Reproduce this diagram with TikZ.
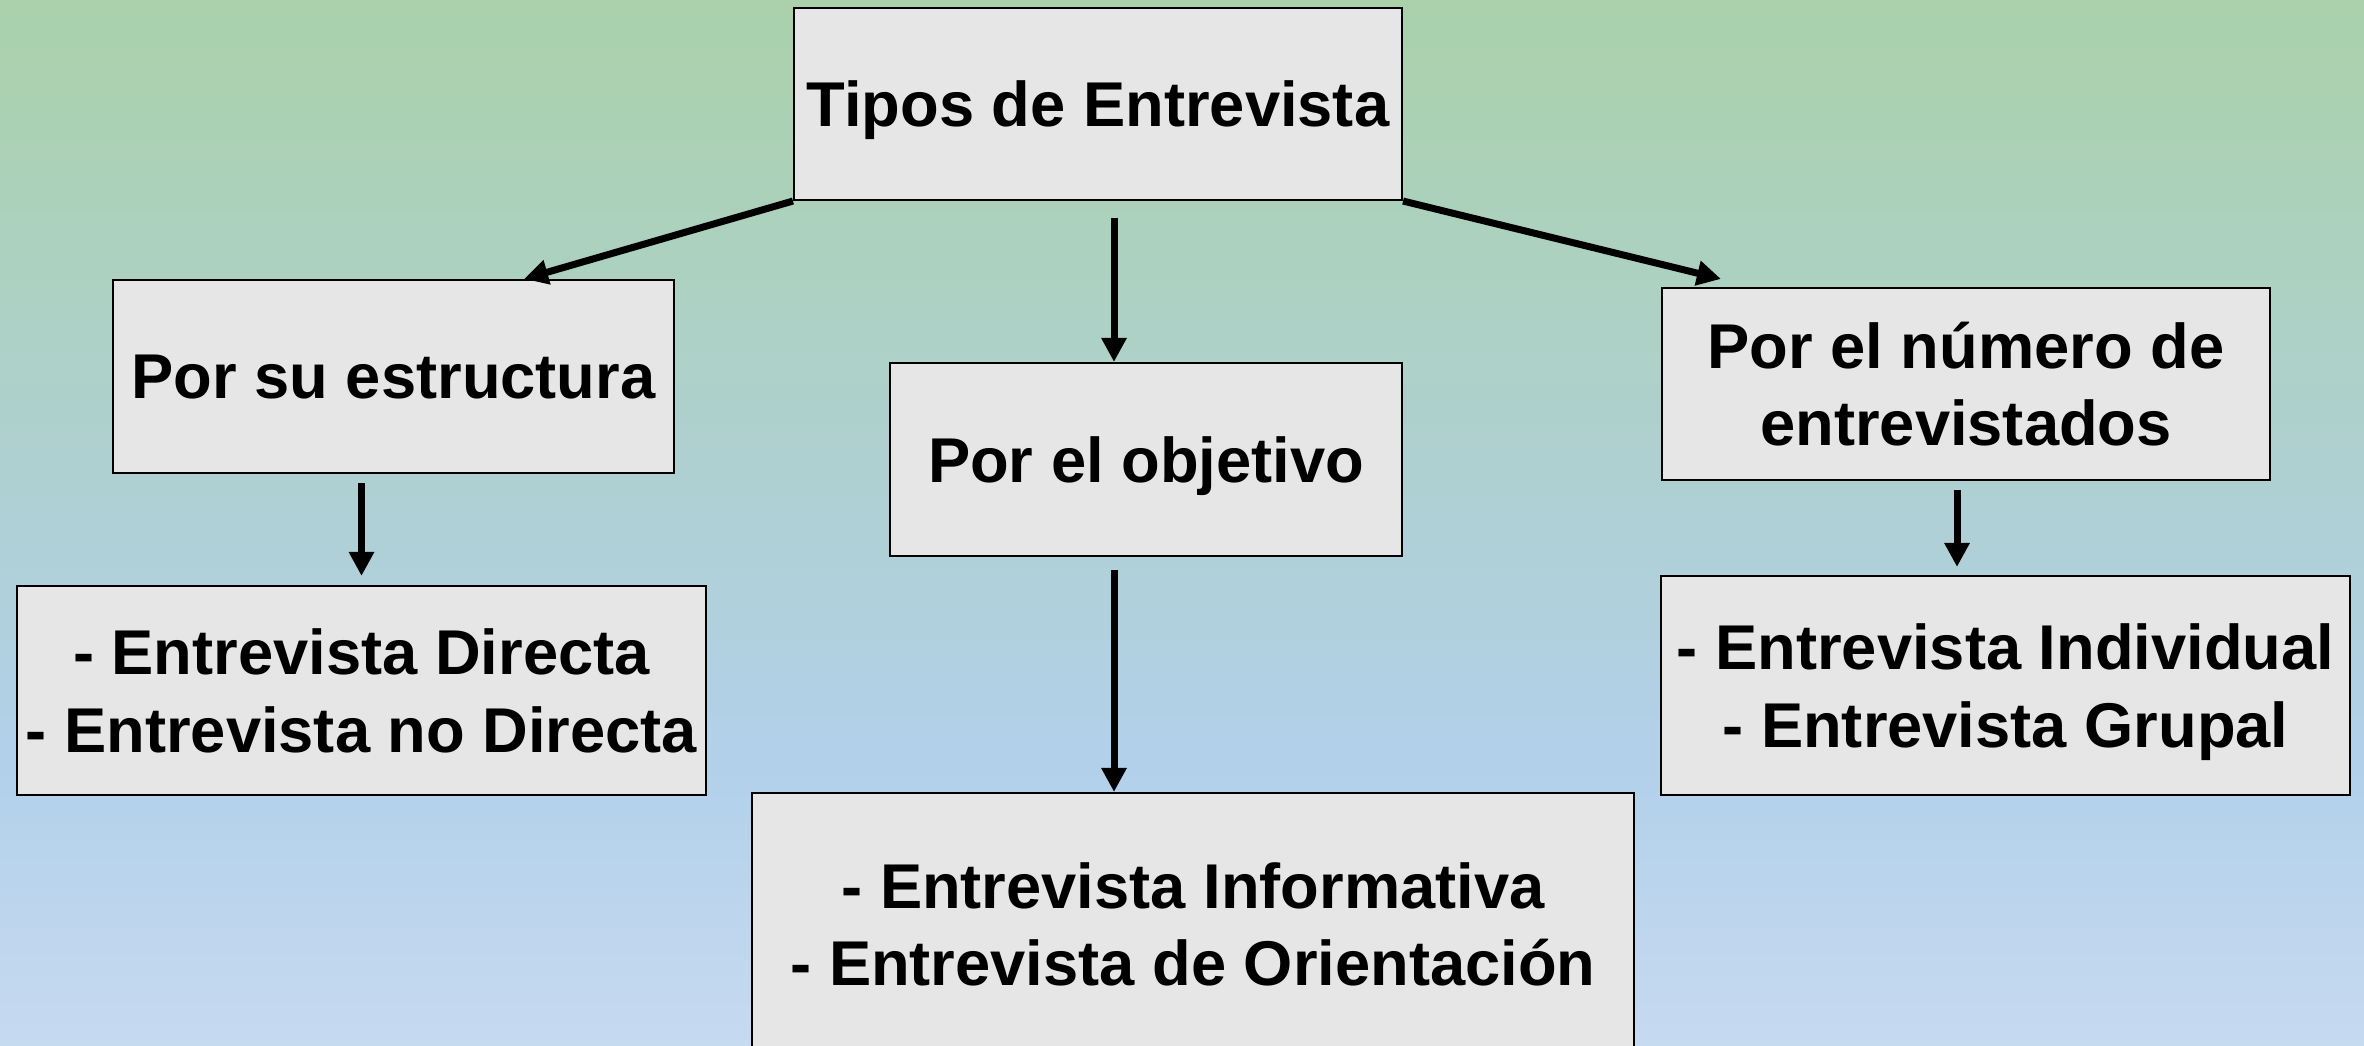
\documentclass[tikz,border=0pt]{standalone}
\usepackage{fontspec}
\setmainfont{Liberation Sans}
\usepackage{tikz}
\usetikzlibrary{arrows.meta}

\definecolor{bggreen}{RGB}{170,209,170}
\definecolor{bgblue}{RGB}{178,208,234}
\definecolor{bglight}{RGB}{198,218,240}
\definecolor{boxgray}{RGB}{230,230,230}

\begin{document}
\begin{tikzpicture}[
    caja/.style={draw=black, line width=0.6pt, fill=boxgray, inner sep=0pt, text depth=0pt,
      align=center, font=\fontsize{18}{22}\selectfont\bfseries},
    flecha/.style={line width=0.07cm, -{Triangle[length=0.24cm,width=0.24cm]}}
  ]
    \useasboundingbox (0, 0) rectangle (23.64, -10.46);
    \fill[top color=bggreen, bottom color=bgblue] (0, 0) rectangle (23.64, -7.65);
    \fill[top color=bgblue, bottom color=bglight] (0, -7.6) rectangle (23.64, -10.46);
    \begin{scope}
      \node[caja, minimum width=6.08cm, minimum height=1.92cm] (tipos) at (10.98, -1.04) {Tipos de Entrevista};
      \node[caja, minimum width=5.61cm, minimum height=1.93cm] (estructura) at (3.935, -3.765) {Por su estructura};
      \node[caja, minimum width=5.12cm, minimum height=1.93cm] (objetivo) at (11.46, -4.595) {Por el objetivo};
      \node[caja, minimum width=6.08cm, minimum height=1.92cm] (numero) at (19.66, -3.84) {Por el número de\\entrevistados};
      \node[caja, minimum width=6.89cm, minimum height=2.09cm] (directa) at (3.615, -6.905) {- Entrevista Directa\\- Entrevista no Directa};
      \node[caja, minimum width=8.82cm, minimum height=2.62cm] (informativa) at (11.93, -9.24) {- Entrevista Informativa\\- Entrevista de Orientación};
      \node[caja, minimum width=6.89cm, minimum height=2.19cm] (individual) at (20.055, -6.855) {- Entrevista Individual\\- Entrevista Grupal};
    \end{scope}
    \draw[flecha] (tipos.south west) -- ([xshift=-1.51cm]estructura.north east);
    \draw[flecha] ([xshift=0.16cm, yshift=-0.17cm]tipos.south) -- ([xshift=0.16cm]tipos.south |- objetivo.north);
    \draw[flecha] (tipos.south east) -- ([xshift=0.6cm, yshift=0.08cm]numero.north west);
    \draw[flecha] ([yshift=-0.09cm]estructura.south -| directa.north) -- ([yshift=0.09cm]directa.north);
    \draw[flecha] ([xshift=-0.32cm, yshift=-0.13cm]objetivo.south) -- ([xshift=-0.32cm]objetivo.south |- informativa.north);
    \draw[flecha] ([xshift=-0.09cm, yshift=-0.09cm]numero.south) -- ([xshift=-0.09cm, yshift=0.08cm]numero.south |- individual.north);
  \end{tikzpicture}
\end{document}
